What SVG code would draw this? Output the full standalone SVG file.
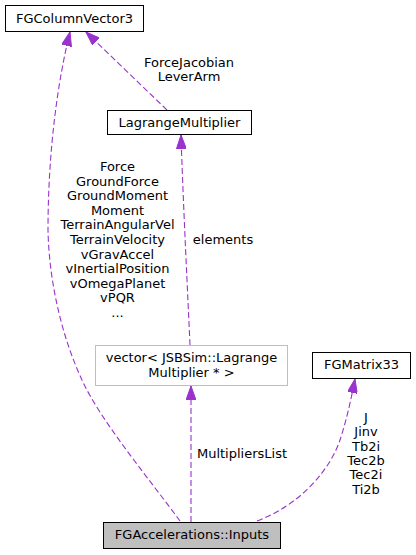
<svg xmlns="http://www.w3.org/2000/svg" width="416" height="555" viewBox="0 0 416 555">
<style>
text{font-family:"DejaVu Sans",sans-serif;font-size:13px;fill:#000;text-anchor:middle}
.box{fill:#fff;stroke:#000;stroke-width:1}
.gray{fill:#fff;stroke:#bfbfbf;stroke-width:1}
.cur{fill:#bfbfbf;stroke:#000;stroke-width:1}
.e{fill:none;stroke:#9a32cd;stroke-width:1.1;stroke-dasharray:6,3;marker-end:url(#ah)}
</style>
<defs>
<marker id="ah" viewBox="0 0 14 10" refX="14" refY="5" markerUnits="userSpaceOnUse" markerWidth="14" markerHeight="10" orient="auto">
<path d="M0,0 L14,5 L0,10 z" fill="#9a32cd" stroke="#9a32cd"/>
</marker>
</defs>
<g id="edges">
<path class="e" d="M180,521 C150,480 100,420 82,380 C62,337 49,282 48,230 C48,150 58,80 70,32"/>
<path class="e" d="M167,110 L86,32"/>
<path class="e" d="M190,345 C188,300 183,200 181,135"/>
<path class="e" d="M191,522 L191,386"/>
<path class="e" d="M257,521 C300,505 330,470 340,440 C346,422 351,400 355,379"/>
<text x="189" y="67">ForceJacobian</text>
<text x="189" y="81">LeverArm</text>
<text x="223" y="244">elements</text>
<text x="242" y="458">MultipliersList</text>
<g>
<text x="117.5" y="171">Force</text>
<text x="117.5" y="185.6">GroundForce</text>
<text x="117.5" y="200.2">GroundMoment</text>
<text x="117.5" y="214.8">Moment</text>
<text x="117.5" y="229.4">TerrainAngularVel</text>
<text x="117.5" y="244">TerrainVelocity</text>
<text x="117.5" y="258.6">vGravAccel</text>
<text x="117.5" y="273.2">vInertialPosition</text>
<text x="117.5" y="287.8">vOmegaPlanet</text>
<text x="117.5" y="302.4">vPQR</text>
<text x="117.5" y="317">...</text>
</g>
<g>
<text x="366" y="422">J</text>
<text x="366" y="436.3">Jinv</text>
<text x="366" y="450.6">Tb2i</text>
<text x="366" y="464.9">Tec2b</text>
<text x="366" y="479.2">Tec2i</text>
<text x="366" y="493.5">Ti2b</text>
</g>
</g>
<g id="FGColumnVector3">
<rect class="box" x="5.5" y="5.5" width="138" height="26"/>
<text x="74.5" y="22.5">FGColumnVector3</text>
</g>
<g id="LagrangeMultiplier">
<rect class="box" x="107.5" y="110.5" width="144" height="24"/>
<text x="179.5" y="127">LagrangeMultiplier</text>
</g>
<g id="vector">
<rect class="gray" x="95.5" y="345.5" width="192" height="40"/>
<text x="191.5" y="362">vector&lt; JSBSim::Lagrange</text>
<text x="191.5" y="377">Multiplier * &gt;</text>
</g>
<g id="FGMatrix33">
<rect class="box" x="312.5" y="352.5" width="98" height="26"/>
<text x="361.5" y="368.5">FGMatrix33</text>
</g>
<g id="Inputs">
<rect class="cur" x="103.5" y="522.5" width="177" height="26"/>
<text x="192" y="539">FGAccelerations::Inputs</text>
</g>
</svg>
